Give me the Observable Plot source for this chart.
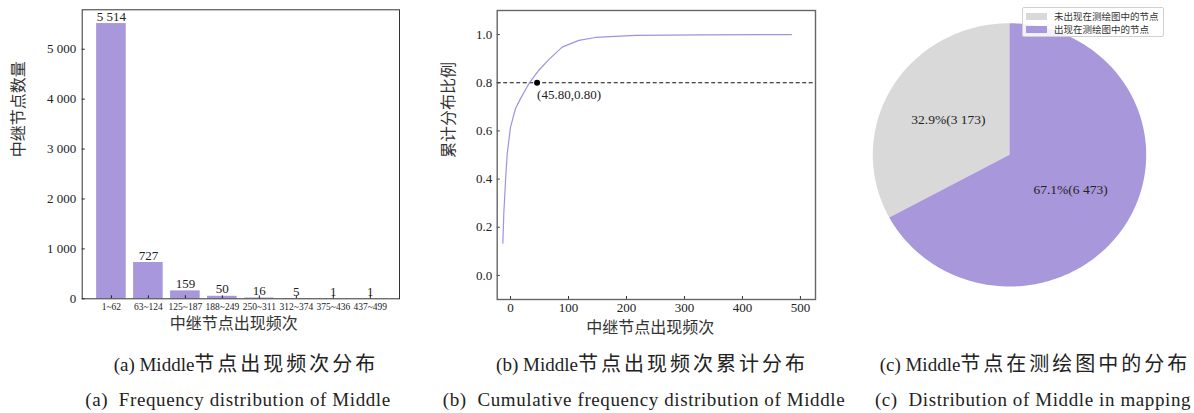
<!DOCTYPE html>
<html>
<head>
<meta charset="utf-8">
<script src="https://cdn.jsdelivr.net/npm/d3@7"></script>
<script src="https://cdn.jsdelivr.net/npm/@observablehq/plot@0.6"></script>
<style>
  html, body { margin: 0; padding: 0; background: #fff; }
  #root { position: relative; width: 1194px; height: 413px; overflow: hidden; background: #fff;
          font-family: "Liberation Serif", "Noto Sans CJK SC", serif; color: #222; }
  .panel { position: absolute; top: 0; }
  .cap { position: absolute; white-space: pre; font-size: 19px; transform: translate(-50%, -50%); color: #222; }
  .cap .zh { font-family: "Noto Sans CJK SC", sans-serif; font-size: 20px; letter-spacing: 3px; }
  .cap.en { letter-spacing: 0.6px; }
  #legend { position: absolute; left: 1022px; top: 7px; width: 142px; height: 30px; border: 1px solid #d0d0d0;
            border-radius: 2px; background: rgba(255,255,255,0.85); font-family: "Noto Sans CJK SC", sans-serif;
            font-size: 9.5px; color: #333; box-sizing: border-box; }
  .li { position: absolute; left: 3px; height: 12px; line-height: 12px; white-space: nowrap; }
  .sw { display: inline-block; width: 21px; height: 7px; vertical-align: middle; margin-right: 7px; margin-top: -2px; }
</style>
</head>
<body>
<div id="root">
  <div class="panel" id="p1" style="left:0px"></div>
  <div class="panel" id="p2" style="left:420px"></div>
  <div class="panel" id="p3" style="left:840px"></div>
  <div id="legend"></div>
  <div class="cap" id="c1a" style="left:246px; top:362px"></div>
  <div class="cap" id="c2a" style="left:652px; top:362px"></div>
  <div class="cap" id="c3a" style="left:1035px; top:362px"></div>
  <div class="cap en" id="c1b" style="left:238px; top:400px"></div>
  <div class="cap en" id="c2b" style="left:644px; top:400px"></div>
  <div class="cap en" id="c3b" style="left:1033px; top:400px"></div>
</div>
<script>
// ---------------- DATA ----------------
const bins = ["1~62","63~124","125~187","188~249","250~311","312~374","375~436","437~499"];
const counts = [5514, 727, 159, 50, 16, 5, 1, 1];
const countTicks = [0, 1000, 2000, 3000, 4000, 5000];

const cdfX = [-13.3, -11.6, -8.6, -5.7, -2.9, 0, 8.6, 17.2, 31.6, 48.8, 66, 89, 117.8, 146.6, 215.5, 327, 484.5];
const cdfY = [0.134, 0.256, 0.395, 0.506, 0.561, 0.616, 0.693, 0.734, 0.796, 0.852, 0.896, 0.948, 0.976, 0.988, 0.997, 0.999, 1.0];
const markX = [45.8];
const markY = [0.80];
const cdfXTicks = [0, 100, 200, 300, 400, 500];
const cdfYTicks = [0, 0.2, 0.4, 0.6, 0.8, 1.0];

const pieLabels = ["未出现在测绘图中的节点", "出现在测绘图中的节点"];
const pieValues = [3173, 6473];

const captionsZh = ["(a) Middle节点出现频次分布", "(b) Middle节点出现频次累计分布", "(c) Middle节点在测绘图中的分布"];
const captionsEn = ["(a)  Frequency distribution of Middle", "(b)  Cumulative frequency distribution of Middle", "(c)  Distribution of Middle in mapping"];

const xTitle = "中继节点出现频次";
const yTitle1 = "中继节点数量";
const yTitle2 = "累计分布比例";

// ---------------- STYLE ----------------
const PURPLE = "#a997dc";
const GRAY = "#d9d9d9";
const LINE = "#a391e0";
const SERIF = "'Liberation Serif', 'Noto Sans CJK SC', serif";
const CJK = "'Noto Sans CJK SC', sans-serif";
const loc = d3.formatLocale({decimal: ".", thousands: " ", grouping: [3], currency: ["", ""]});
const fmt = loc.format(",");

// ---------------- PANEL A ----------------
{
  const W = 410, H = 340, mL = 81.7, mR = 11, mT = 9.3, mB = 41.7;
  const pw = W - mL - mR, ph = H - mT - mB;
  const data = bins.map((b, i) => ({bin: b, n: counts[i]}));
  const chart = Plot.plot({
    width: W, height: H, marginLeft: mL, marginRight: mR, marginTop: mT, marginBottom: mB,
    style: {fontFamily: SERIF, background: "transparent", color: "#222", overflow: "visible"},
    x: {domain: bins, paddingInner: 0.2, paddingOuter: 0.39, round: false, axis: null},
    y: {domain: [0, 5514 * 1.05], axis: null},
    marks: [
      Plot.barY(data, {x: "bin", y: "n", fill: PURPLE}),
      Plot.text(data, {x: "bin", y: "n", text: d => fmt(d.n), dy: -7, fontSize: 13, fill: "#222"}),
      Plot.axisY({ticks: countTicks, tickSize: 0, tickPadding: 6, tickFormat: fmt, fontSize: 13, label: null}),
      Plot.tickY(countTicks, {y: d => d, insetRight: pw - 3, stroke: "#222"}),
      Plot.axisX({tickSize: 0, tickPadding: 4, fontSize: 9.5, label: null}),
      Plot.tickX(bins, {x: d => d, insetTop: ph - 3, stroke: "#222"}),
      Plot.frame({stroke: "#333"}),
      Plot.text([xTitle], {frameAnchor: "bottom", dy: 30, dx: -7, text: d => d, fontSize: 16, fontFamily: CJK, fill: "#333"}),
      Plot.text([yTitle1], {frameAnchor: "left", dx: -63.7, dy: 3, rotate: -90, text: d => d, fontSize: 16, fontFamily: CJK, fill: "#333"})
    ]
  });
  document.getElementById("p1").appendChild(chart);
}

// ---------------- PANEL B ----------------
{
  const W = 410, H = 340, mL = 76.7, mR = 15, mT = 10, mB = 41;
  const pw = W - mL - mR, ph = H - mT - mB;
  const pts = cdfX.map((x, i) => ({x, y: cdfY[i]}));
  const mk = markX.map((x, i) => ({x, y: markY[i]}));
  const chart = Plot.plot({
    width: W, height: H, marginLeft: mL, marginRight: mR, marginTop: mT, marginBottom: mB,
    style: {fontFamily: SERIF, background: "transparent", color: "#222", overflow: "visible"},
    x: {domain: [-23, 526], axis: null},
    y: {domain: [-0.1, 1.1], axis: null},
    marks: [
      Plot.ruleY(markY, {y: d => d, stroke: "#111", strokeDasharray: "4,2.5", strokeWidth: 1.1}),
      Plot.line(pts, {x: "x", y: "y", stroke: LINE, strokeWidth: 1.2, curve: "linear"}),
      Plot.dot(mk, {x: "x", y: "y", r: 3, fill: "#000", stroke: "none"}),
      Plot.text(mk, {x: "x", y: "y", text: d => `(${d.x.toFixed(2)},${d.y.toFixed(2)})`, textAnchor: "start", dy: 12, dx: 0, fontSize: 13, fill: "#222"}),
      Plot.axisY({ticks: cdfYTicks, tickSize: 0, tickPadding: 5, tickFormat: d3.format(".1f"), fontSize: 13, label: null}),
      Plot.tickY(cdfYTicks, {y: d => d, insetRight: pw - 3, stroke: "#333"}),
      Plot.axisX({ticks: cdfXTicks, tickSize: 0, tickPadding: 3, tickFormat: d3.format("d"), fontSize: 13, label: null}),
      Plot.tickX(cdfXTicks, {x: d => d, insetTop: ph - 3, stroke: "#333"}),
      Plot.frame({stroke: "#666", strokeWidth: 1.4}),
      Plot.text([xTitle], {frameAnchor: "bottom", dy: 33, dx: -6, text: d => d, fontSize: 16, fontFamily: CJK, fill: "#333"}),
      Plot.text([yTitle2], {frameAnchor: "left", dx: -48.7, dy: 3, rotate: -90, text: d => d, fontSize: 16, fontFamily: CJK, fill: "#333"})
    ]
  });
  document.getElementById("p2").appendChild(chart);
}

// ---------------- PANEL C (pie) ----------------
{
  const W = 354, H = 340, mL = 32.3, mR = 48.3, mT = 22.7, mB = 54;
  const total = d3.sum(pieValues);
  const wedges = [];
  const labels = [];
  let a = 90; // start angle (degrees), counter-clockwise
  pieValues.forEach((v, i) => {
    const sweep = v / total * 360;
    const a0 = a, a1 = a + sweep;
    wedges.push({slice: pieLabels[i], x: 0, y: 0});
    const steps = Math.ceil(sweep);
    for (let k = 0; k <= steps; k++) {
      const t = (a0 + (a1 - a0) * k / steps) * Math.PI / 180;
      wedges.push({slice: pieLabels[i], x: Math.cos(t), y: Math.sin(t)});
    }
    wedges.push({slice: pieLabels[i], x: 0, y: 0});
    const mid = (a0 + a1) / 2 * Math.PI / 180;
    const pct = (v / total * 100).toFixed(1);
    labels.push({x: 0.52 * Math.cos(mid), y: 0.52 * Math.sin(mid), text: `${pct}%(${fmt(v)})`});
    a = a1;
  });
  const chart = Plot.plot({
    width: W, height: H, marginLeft: mL, marginRight: mR, marginTop: mT, marginBottom: mB,
    style: {fontFamily: SERIF, background: "transparent", color: "#222", overflow: "visible"},
    x: {domain: [-1, 1], axis: null},
    y: {domain: [-1, 1], axis: null},
    color: {domain: pieLabels, range: [GRAY, PURPLE]},
    marks: [
      Plot.line(wedges, {x: "x", y: "y", z: "slice", fill: "slice", stroke: "none", curve: "linear"}),
      Plot.text(labels, {x: "x", y: "y", text: "text", fontSize: 13.5, fill: "#222"})
    ]
  });
  document.getElementById("p3").appendChild(chart);

  const lg = document.getElementById("legend");
  pieLabels.forEach((l, i) => {
    const row = document.createElement("div");
    row.className = "li";
    row.style.top = (i === 0 ? 2 : 15) + "px";
    row.innerHTML = `<span class="sw" style="background:${[GRAY, PURPLE][i]}"></span>${l}`;
    lg.appendChild(row);
  });
}

// ---------------- CAPTIONS ----------------
function setCaption(id, text) {
  const el = document.getElementById(id);
  text.split(/([\u4e00-\u9fff]+)/).forEach(part => {
    if (!part) return;
    const s = document.createElement("span");
    if (/[\u4e00-\u9fff]/.test(part)) s.className = "zh";
    s.textContent = part;
    el.appendChild(s);
  });
}
["c1a", "c2a", "c3a"].forEach((id, i) => setCaption(id, captionsZh[i]));
["c1b", "c2b", "c3b"].forEach((id, i) => setCaption(id, captionsEn[i]));
</script>
</body>
</html>
